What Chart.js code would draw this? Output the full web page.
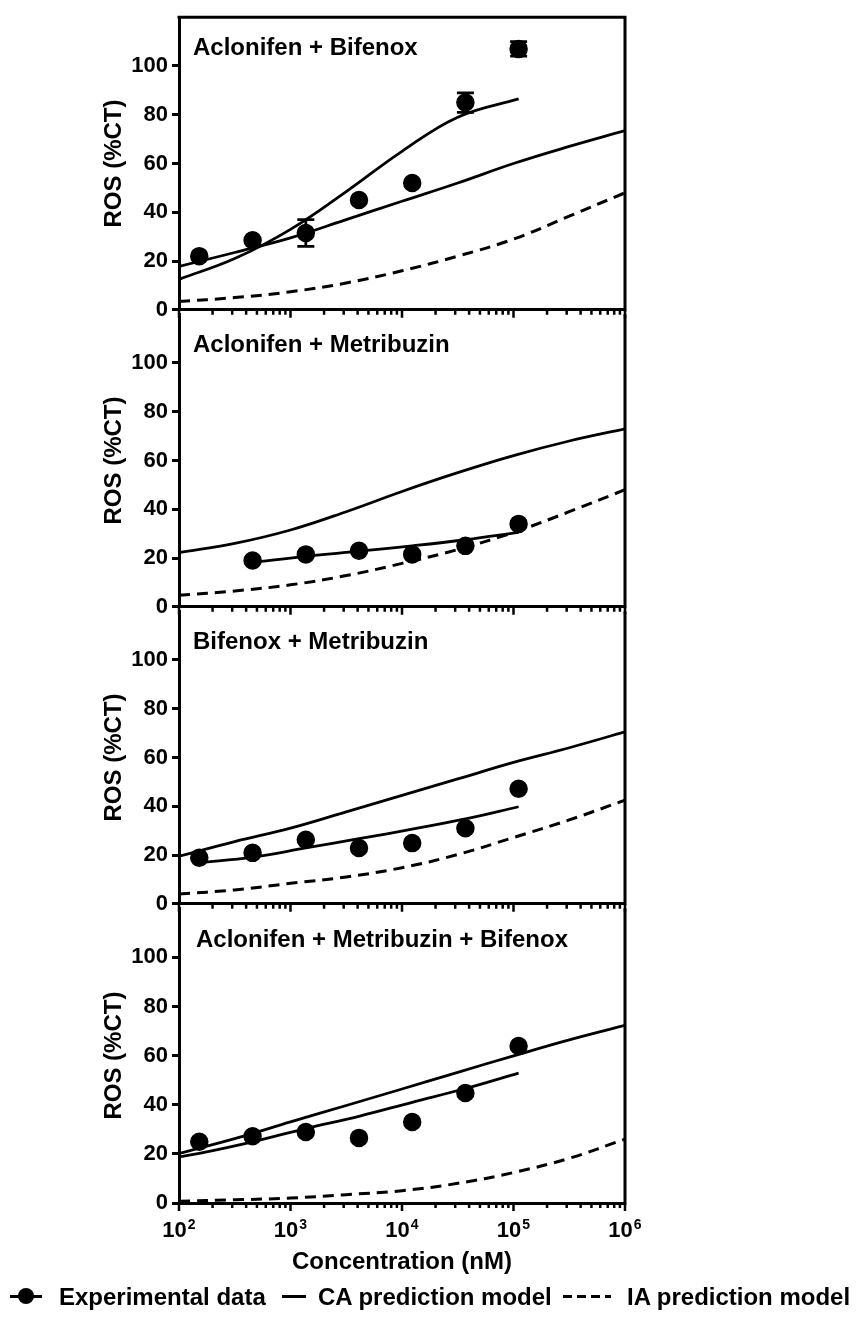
<!DOCTYPE html>
<html>
<head>
<meta charset="utf-8">
<title>ROS response to herbicide mixtures</title>
<script src="https://cdn.jsdelivr.net/npm/chart.js@4.4.1/dist/chart.umd.min.js"></script>
<style>
  html, body { margin: 0; padding: 0; background: #fff; }
  #figure {
    position: relative; width: 857px; height: 1325px; background: #fff; overflow: hidden;
    font-family: "Liberation Sans", Arial, Helvetica, sans-serif;
  }
  #figure canvas { position: absolute; left: 0; }
  .lbl {
    position: absolute; top: 1283px; font-size: 24px; font-weight: bold;
    line-height: 28px; white-space: nowrap; color: #000;
  }
  .sym { position: absolute; height: 3px; top: 1295px; }
  .sym-line { background: #000; }
  .sym-dash { background: repeating-linear-gradient(90deg, #000 0 9px, transparent 9px 14px); }
  .sym-dot {
    position: absolute; width: 16px; height: 16px; border-radius: 50%;
    background: #000; top: 1288px;
  }
</style>
</head>
<body>
<div id="figure">
  <canvas id="panel1" width="857" height="327" style="top:0px"></canvas>
  <canvas id="panel2" width="857" height="327" style="top:297px"></canvas>
  <canvas id="panel3" width="857" height="327" style="top:594px"></canvas>
  <canvas id="panel4" width="857" height="434" style="top:891px"></canvas>

  <span class="sym sym-line" style="left:10px;width:32px"></span>
  <span class="sym-dot" style="left:18px"></span>
  <span class="lbl" style="left:59px">Experimental data</span>
  <span class="sym sym-line" style="left:282px;width:24px"></span>
  <span class="lbl" style="left:318px">CA prediction model</span>
  <span class="sym sym-dash" style="left:563px;width:48px"></span>
  <span class="lbl" style="left:627px">IA prediction model</span>
</div>
<script>
const FONT = '"Liberation Sans", Arial, Helvetica, sans-serif';
Chart.defaults.font.family = FONT;
Chart.defaults.color = '#000';

// tested concentrations (nM), identical for every mixture
const doses = [152, 457, 1372, 4115, 12346, 37037, 111111];
// concentrations at which the model curves are given (half decades)
const modelDoses = [100, 316, 1000, 3162, 10000, 31623, 100000, 316228, 1000000];
const decades = [2, 3, 4, 5, 6];
const yTicks = [0, 20, 40, 60, 80, 100];

// Aclonifen + Bifenox
const abRos = [22, 28.5, 31.5, 45, 52, 85, 107];
const abErr = [0, 0, 5.5, 0, 0, 4, 3];
const abFitDoses = [100, 316, 1000, 3162, 10000, 31623, 111111];
const abFit = [12.5, 21, 33, 48.5, 65, 79, 86.5];
const abCA = [17.8, 23.5, 29.5, 37, 44.5, 52, 60, 67, 73.5];
const abIA = [3.4, 5, 7.4, 11, 16, 22, 29, 38.4, 48];

// Aclonifen + Metribuzin
const amDoses = [457, 1372, 4115, 12346, 37037, 111111];
const amRos = [19, 21.5, 23, 21.5, 25, 34];
const amErr = [0, 0, 0, 0, 0, 0];
const amFit = [18.2, 20.7, 22.8, 25, 27.5, 30.5];
const amCA = [22.2, 26, 31.5, 39, 47.3, 55, 62, 68, 73];
const amIA = [4.7, 6.5, 9, 12.8, 17.8, 23.5, 30.5, 39, 48];

// Bifenox + Metribuzin
const bmRos = [18.9, 20.9, 26.3, 22.9, 24.9, 31, 47.2];
const bmErr = [0, 0, 0, 0, 0, 0, 0];
const bmFit = [16.8, 19.1, 22.9, 26.7, 30.6, 34.8, 39.8];
const bmCA = [19.5, 25.5, 31, 37.7, 44.5, 51.2, 58, 64, 70.5];
const bmIA = [4, 5.7, 8.4, 11, 14.8, 20.2, 27.2, 34.4, 42.5];

// Aclonifen + Metribuzin + Bifenox
const ambRos = [24.9, 27.2, 28.9, 26.5, 33, 44.8, 63.9];
const ambErr = [0, 0, 0, 0, 0, 0, 0];
const ambFitDoses = [100, 152, 457, 1372, 4115, 12346, 37037, 111111];
const ambFit = [18.8, 20.2, 24.9, 30.3, 35.3, 41, 46.6, 52.9];
const ambCA = [20.2, 26.2, 33, 39.7, 46.4, 53.2, 59.9, 66.4, 72.3];
const ambIA = [0.7, 1.3, 2, 3.4, 5, 8, 12.4, 18.2, 26];

const pts = (xs, ys) => xs.map((x, i) => ({ x, y: ys[i] }));

// frame, log ticks, panel title, error bars and (bottom panel) decade labels
const panelDecor = {
  id: 'panelDecor',
  beforeDatasetsDraw(chart, args, opts) {
    const { ctx, scales: { x, y } } = chart;
    if (!opts.err) return;
    ctx.save();
    ctx.strokeStyle = '#000';
    ctx.lineWidth = 2.8;
    opts.err.forEach((e, i) => {
      if (!e) return;
      const px = x.getPixelForValue(opts.errX[i]);
      const hi = y.getPixelForValue(opts.errY[i] + e);
      const lo = y.getPixelForValue(opts.errY[i] - e);
      ctx.beginPath();
      ctx.moveTo(px, hi); ctx.lineTo(px, lo);
      ctx.moveTo(px - 8.5, hi); ctx.lineTo(px + 8.5, hi);
      ctx.moveTo(px - 8.5, lo); ctx.lineTo(px + 8.5, lo);
      ctx.stroke();
    });
    ctx.restore();
  },
  afterDraw(chart, args, opts) {
    const { ctx, chartArea: { left, right, top, bottom }, scales: { x } } = chart;
    ctx.save();
    ctx.strokeStyle = '#000';
    ctx.fillStyle = '#000';
    ctx.lineWidth = 3;
    ctx.beginPath();
    ctx.moveTo(right, bottom + 1.5);
    ctx.lineTo(right, top - (opts.topBorder ? 1.5 : 0));
    if (opts.topBorder) {
      ctx.moveTo(right + 1.5, top);
      ctx.lineTo(left - 1.5, top);
    }
    ctx.stroke();

    // log ticks below the axis: long at decades, short in between
    ctx.lineWidth = 2.5;
    ctx.beginPath();
    for (let d = 2; d < 6; d++) {
      for (let m = 1; m <= 9; m++) {
        const px = x.getPixelForValue(m * Math.pow(10, d));
        ctx.moveTo(px, bottom);
        ctx.lineTo(px, bottom + (m === 1 ? 8 : 5));
      }
    }
    const pEnd = x.getPixelForValue(1e6);
    ctx.moveTo(pEnd, bottom);
    ctx.lineTo(pEnd, bottom + 8);
    ctx.stroke();

    ctx.font = 'bold 24px ' + FONT;
    ctx.textBaseline = 'alphabetic';
    ctx.fillText(opts.title, left + opts.titleDx, top + opts.titleDy);

    if (opts.tickLabels) {
      decades.forEach(d => {
        const px = x.getPixelForValue(Math.pow(10, d));
        ctx.font = 'bold 22px ' + FONT;
        const w1 = ctx.measureText('10').width;
        ctx.font = 'bold 14px ' + FONT;
        const w2 = ctx.measureText(String(d)).width;
        const x0 = px - (w1 + w2 + 1) / 2;
        ctx.font = 'bold 22px ' + FONT;
        ctx.fillText('10', x0, bottom + 34);
        ctx.font = 'bold 14px ' + FONT;
        ctx.fillText(String(d), x0 + w1 + 1, bottom + 26);
      });
    }
    ctx.restore();
  }
};

function makePanel(id, p) {
  const last = !!p.last;
  return new Chart(document.getElementById(id), {
    type: 'scatter',
    data: {
      datasets: [
        {
          label: 'Experimental data', data: pts(p.doses, p.ros),
          pointRadius: 8.5, pointBackgroundColor: '#000', pointBorderColor: '#000', pointBorderWidth: 1.5
        },
        {
          label: 'Fit', data: pts(p.fitDoses, p.fit), showLine: true, pointRadius: 0,
          borderColor: '#000', borderWidth: 2.8, tension: 0.4
        },
        {
          label: 'CA prediction model', data: pts(modelDoses, p.ca), showLine: true, pointRadius: 0,
          borderColor: '#000', borderWidth: 2.8, tension: 0.4
        },
        {
          label: 'IA prediction model', data: pts(modelDoses, p.ia), showLine: true, pointRadius: 0,
          borderColor: '#000', borderWidth: 3, borderDash: [11, 7], tension: 0.4
        }
      ]
    },
    options: {
      responsive: false,
      animation: false,
      layout: { padding: { left: 0, right: 232, top: 15, bottom: last ? 48 : 0 } },
      scales: {
        x: {
          type: 'logarithmic', min: 100, max: 1e6,
          afterFit: s => { s.height = last ? 74 : 15; },
          ticks: { display: false },
          grid: { drawOnChartArea: false, drawTicks: false },
          border: { display: true, width: 3, color: '#000' },
          title: {
            display: last, text: 'Concentration (nM)', color: '#000',
            font: { size: 24, weight: 'bold' }, padding: { top: 0, bottom: 0 }
          }
        },
        y: {
          min: 0, max: 120,
          afterFit: s => { s.width = 179; },
          afterBuildTicks: s => { s.ticks = yTicks.map(v => ({ value: v })); },
          ticks: { color: '#000', padding: 4, font: { size: 22, weight: 'bold' } },
          grid: { drawOnChartArea: false, tickLength: 7, tickWidth: 3, tickColor: '#000' },
          border: { display: true, width: 3, color: '#000' },
          title: {
            display: true, text: 'ROS (%CT)', color: '#000',
            font: { size: 24, weight: 'bold' }, padding: { top: 100, bottom: 0 }
          }
        }
      },
      plugins: {
        legend: { display: false },
        tooltip: { enabled: false },
        panelDecor: {
          title: p.title, titleDx: p.titleDx || 14, titleDy: p.titleDy || 38,
          topBorder: !!p.topBorder, tickLabels: last,
          err: p.err, errX: p.doses, errY: p.ros
        }
      }
    },
    plugins: [panelDecor]
  });
}

makePanel('panel1', {
  title: 'Aclonifen + Bifenox', topBorder: true,
  doses: doses, ros: abRos, err: abErr, fitDoses: abFitDoses, fit: abFit, ca: abCA, ia: abIA
});
makePanel('panel2', {
  title: 'Aclonifen + Metribuzin',
  doses: amDoses, ros: amRos, err: amErr, fitDoses: amDoses, fit: amFit, ca: amCA, ia: amIA
});
makePanel('panel3', {
  title: 'Bifenox + Metribuzin',
  doses: doses, ros: bmRos, err: bmErr, fitDoses: doses, fit: bmFit, ca: bmCA, ia: bmIA
});
makePanel('panel4', {
  title: 'Aclonifen + Metribuzin + Bifenox', titleDx: 17, titleDy: 39, last: true,
  doses: doses, ros: ambRos, err: ambErr, fitDoses: ambFitDoses, fit: ambFit, ca: ambCA, ia: ambIA
});
</script>
</body>
</html>
